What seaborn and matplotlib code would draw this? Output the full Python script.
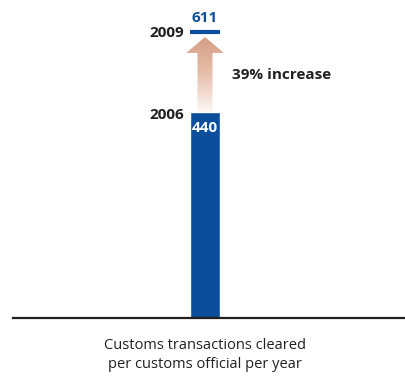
import numpy as np
import pandas as pd
import seaborn as sns
import matplotlib.pyplot as plt
from matplotlib.patches import Polygon
from matplotlib.colors import LinearSegmentedColormap

# DATA
years = ["2006", "2009"]
values = [440, 611]
change_label = "39% increase"
caption = "Customs transactions cleared\nper customs official per year"

BLUE = "#0b4f9c"
DARK = "#231f20"

sns.set_theme(style="white")
plt.rcParams["font.family"] = ["Open Sans", "DejaVu Sans"]

fig = plt.figure(figsize=(4.06, 3.79), dpi=100)
ax = fig.add_axes([13 / 406, 61 / 379, 393 / 406, 318 / 379])

df = pd.DataFrame({"year": years[:1], "value": values[:1]})
sns.barplot(data=df, x="year", y="value", color=BLUE, saturation=1, width=0.8, ax=ax)

ax.set_xticks([])
ax.set_yticks([])
ax.set_xlabel("")
ax.set_ylabel("")
for s in ["top", "left", "right"]:
    ax.spines[s].set_visible(False)
ax.spines["bottom"].set_color(DARK)
ax.spines["bottom"].set_linewidth(1.6)

# 2009 level marker
ax.hlines(values[1], -0.4, 0.4, color=BLUE, lw=3)

# gradient arrow from 2006 to 2009
y0, y1 = values[0], values[1] - 11
head = values[1] - 45
shaft, hw = 0.2, 0.5
arrow = Polygon([(-shaft, y0), (-shaft, head), (-hw, head), (0, y1),
                 (hw, head), (shaft, head), (shaft, y0)], closed=True,
                facecolor="none", edgecolor="none")
ax.add_patch(arrow)
cmap = LinearSegmentedColormap.from_list("arr", ["#fdf8f5", "#e8c0ad", "#d49e84"])
grad = np.linspace(0, 1, 256).reshape(-1, 1)
im = ax.imshow(grad, cmap=cmap, origin="lower", aspect="auto",
               extent=(-hw, hw, y0, y1), zorder=3)
im.set_clip_path(arrow)
ax.set_xlim(-5.12, 5.36)
ax.set_ylim(0, 679)

# labels
ax.text(-0.55, values[1] - 3, years[1], ha="right", va="center",
        fontsize=11, fontweight="bold", color=DARK)
ax.text(0, values[1] + 29, str(values[1]), ha="center", va="center",
        fontsize=11, fontweight="bold", color=BLUE)
ax.text(-0.55, values[0] - 7, years[0], ha="right", va="center",
        fontsize=11, fontweight="bold", color=DARK)
ax.text(0, values[0] - 34, str(values[0]), ha="center", va="center",
        fontsize=11, fontweight="bold", color="white")
ax.text(0.72, 519, change_label, ha="left", va="center",
        fontsize=11, fontweight="bold", color=DARK)

fig.text(205 / 406, 1 - 355 / 379, caption, ha="center", va="center",
         fontsize=10.5, color=DARK, linespacing=1.3)

fig.savefig("out.png", dpi=100)
